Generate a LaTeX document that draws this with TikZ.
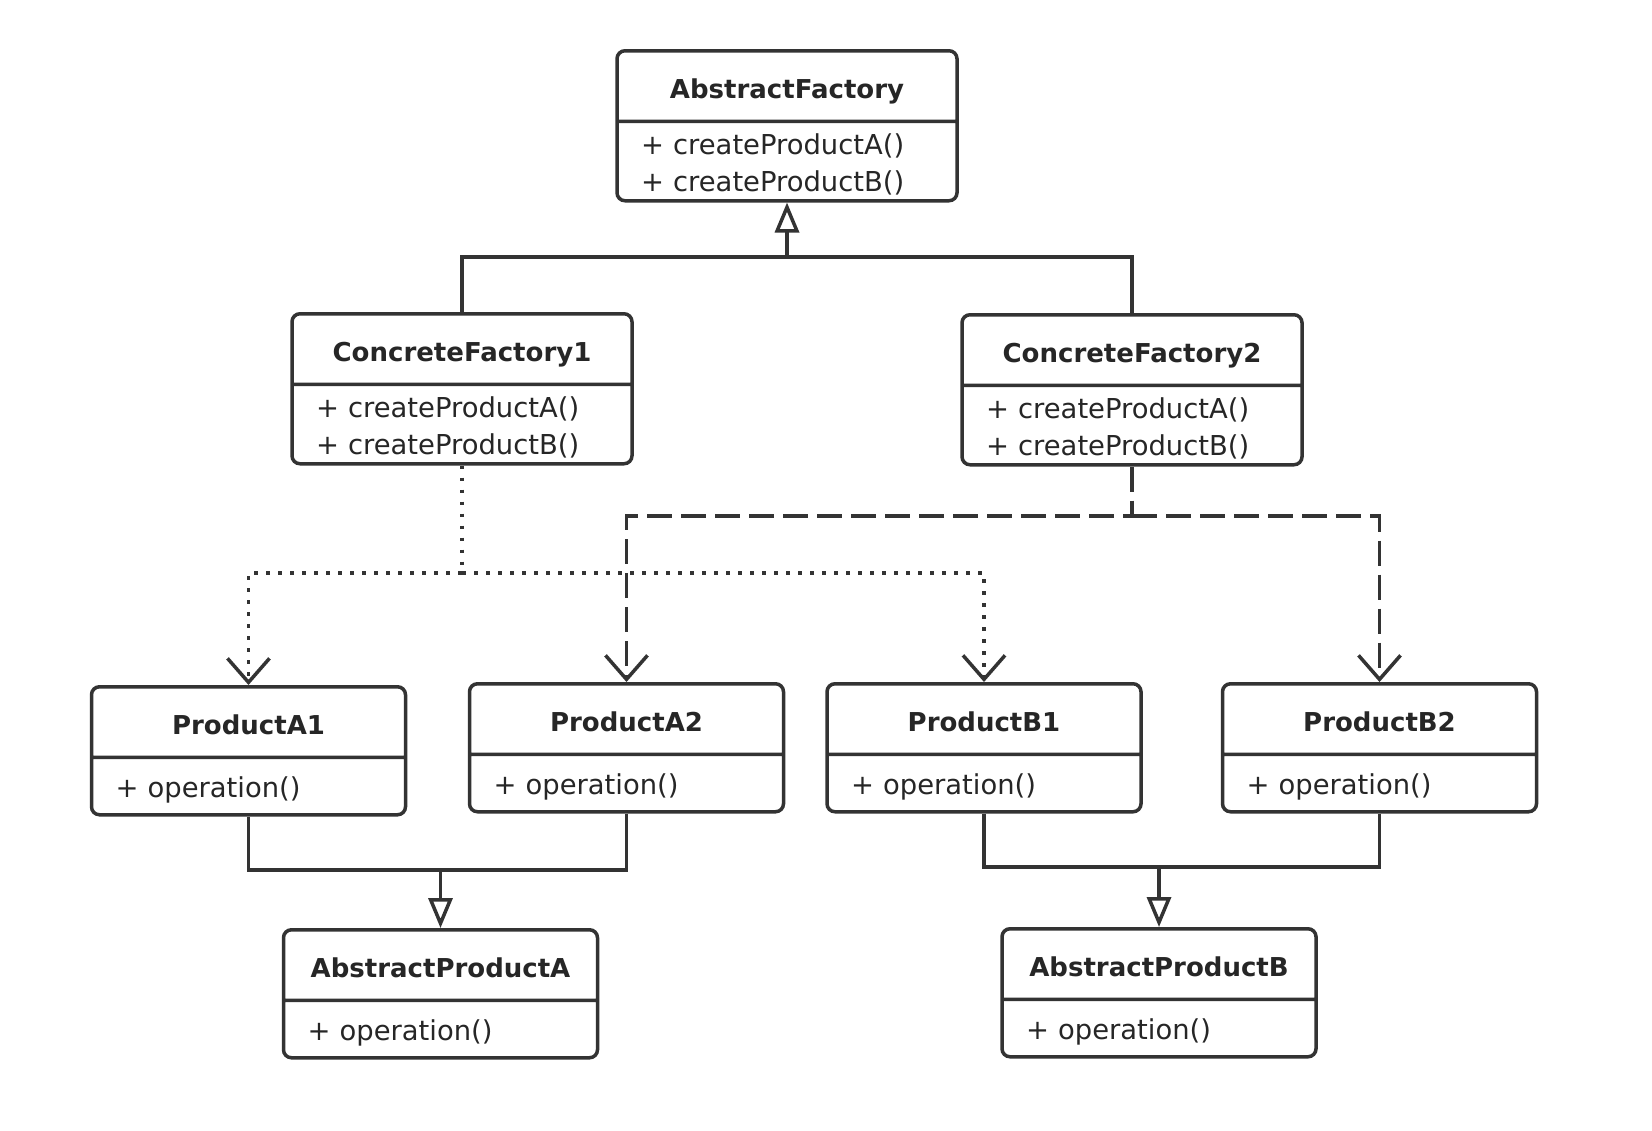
\documentclass[tikz,border=0pt]{standalone}
\usepackage{fontspec}
\setmainfont{DejaVu Sans}
\usetikzlibrary{shapes.multipart,arrows.meta}

\newcommand{\clsname}[1]{\hbox to\hsize{\hss\rule[-10.5pt]{0pt}{33.5pt}{\fontsize{13}{15}\selectfont\bfseries #1}\hss}}
\newcommand{\oneop}[1]{\rule[-8pt]{0pt}{27pt}#1}
\newcommand{\twoops}[2]{\rule{0pt}{15.5pt}#1\\\rule[-4pt]{0pt}{4pt}#2}

\begin{document}
\begin{tikzpicture}[x=0.5pt,y=-0.5pt,
        umlclass/.style={rectangle split, rectangle split parts=2, draw=black!80,
            line width=1.75pt, rounded corners=4pt, anchor=north, inner xsep=12pt,
            inner ysep=0pt, text=black!85, font=\fontsize{13.7}{18.5}\selectfont},
        factory/.style={umlclass, text width=146pt},
        product/.style={umlclass, text width=133pt},
        solidline/.style={draw=black!80, line width=1.75pt},
        dotline/.style={solidline, dash pattern=on 1.75pt off 4.25pt},
        dashline/.style={solidline, dash pattern=on 12.5pt off 4.5pt},
        gen/.style={solidline, -{Triangle[open, length=15pt, width=12pt]}},
        dep/.style={-{Straight Barb[length=12pt, width=21pt]}}]
        \useasboundingbox (0,0) rectangle (1652,1130);

        \node[factory] (AF) at (787,49) {\clsname{AbstractFactory}\nodepart{two}\twoops{+ createProductA()}{+ createProductB()}};
        \node[factory] (CF1) at (462,312) {\clsname{ConcreteFactory1}\nodepart{two}\twoops{+ createProductA()}{+ createProductB()}};
        \node[factory] (CF2) at (1132,313) {\clsname{ConcreteFactory2}\nodepart{two}\twoops{+ createProductA()}{+ createProductB()}};

        \node[product] (PA1) at (248.5,685) {\clsname{ProductA1}\nodepart{two}\oneop{+ operation()}};
        \node[product] (PA2) at (626.5,682) {\clsname{ProductA2}\nodepart{two}\oneop{+ operation()}};
        \node[product] (PB1) at (984,682) {\clsname{ProductB1}\nodepart{two}\oneop{+ operation()}};
        \node[product] (PB2) at (1379.5,682) {\clsname{ProductB2}\nodepart{two}\oneop{+ operation()}};

        \node[product] (APA) at (440.5,928) {\clsname{AbstractProductA}\nodepart{two}\oneop{+ operation()}};
        \node[product] (APB) at (1159,927) {\clsname{AbstractProductB}\nodepart{two}\oneop{+ operation()}};

        \coordinate (fhub) at (787,257);
        \coordinate (dothub) at (462,573);
        \coordinate (dashhub) at (1132,516);
        \coordinate (ahub) at (440.5,870);
        \coordinate (bhub) at (1159,867);

        \draw[solidline] (CF1.north) |- (fhub);
        \draw[solidline] (CF2.north) |- (fhub);
        \draw[gen] (fhub) -- (AF.south);

        \draw[dotline, dep] (CF1.south) -- (dothub) -| (PA1.north);
        \draw[dotline, dep] (dothub) -| (PB1.north);
        \draw[dashline, dep] (CF2.south) -- (dashhub) -| (PA2.north);
        \draw[dashline, dep] (dashhub) -| (PB2.north);

        \draw[solidline] (PA1.south) |- (ahub);
        \draw[solidline] (PA2.south) |- (ahub);
        \draw[gen] (ahub) -- (APA.north);
        \draw[solidline] (PB1.south) |- (bhub);
        \draw[solidline] (PB2.south) |- (bhub);
        \draw[gen] (bhub) -- (APB.north);
    \end{tikzpicture}
\end{document}
